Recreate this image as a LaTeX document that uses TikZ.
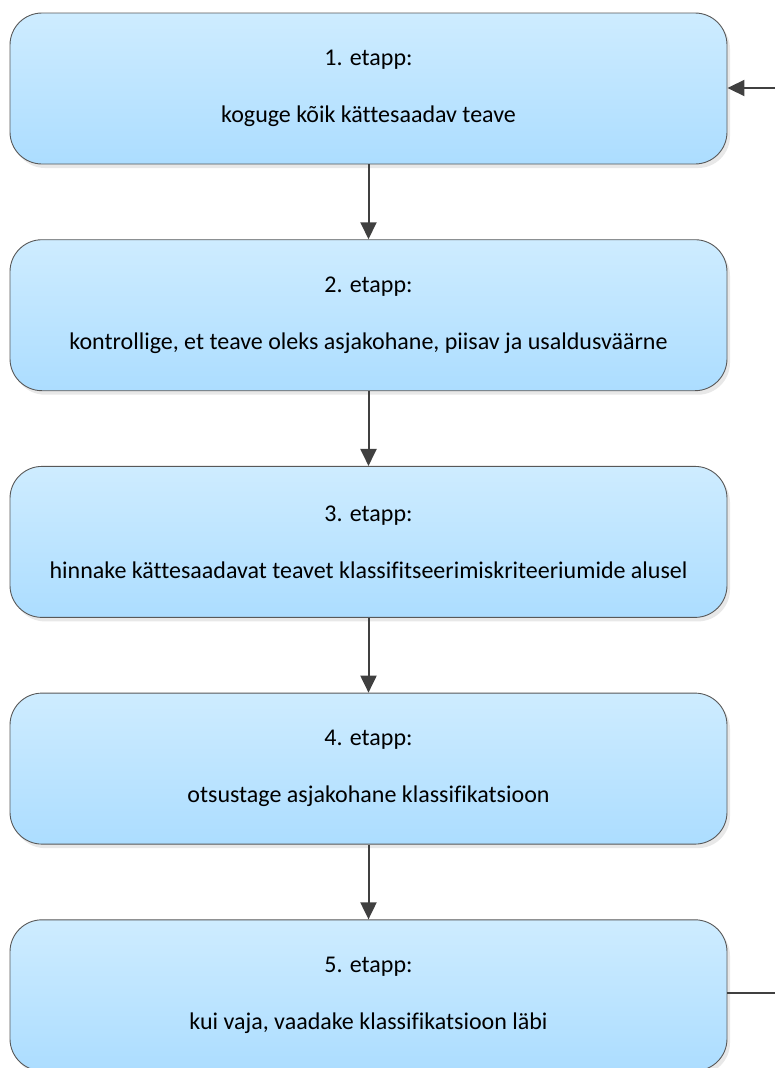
\documentclass[tikz,border=0pt]{standalone}
\usepackage{fontspec}
\setmainfont[Ligatures=NoCommon]{Carlito}
\usetikzlibrary{arrows.meta, shadows}
\definecolor{boxtop}{RGB}{206,236,255}
\definecolor{boxbot}{RGB}{172,221,255}
\definecolor{rand}{RGB}{88,88,88}
\definecolor{pijl}{RGB}{64,64,64}
\tikzset{
  etapp/.style = {rectangle, rounded corners=32pt, draw=rand, line width=0.9pt,
    top color=boxtop, bottom color=boxbot, minimum width=717pt,
    minimum height=151pt, inner sep=0pt, align=center,
    font=\fontsize{24}{29}\selectfont,
    drop shadow={opacity=0.18, shadow xshift=3pt, shadow yshift=-4pt}},
  pijl/.style = {-{Triangle[length=17pt, width=16pt]}, line width=2pt, draw=pijl},
  joon/.style = {line width=2pt, draw=pijl}
}

\begin{document}
\begin{tikzpicture}[x=1pt, y=-1pt]
  \useasboundingbox (0,0) rectangle (775,1068);
  % etapid
  \foreach \t [count=\i] in {{koguge kõik kättesaadav teave},
      {kontrollige, et teave oleks asjakohane, piisav ja usaldusväärne},
      {hinnake kättesaadavat teavet klassifitseerimiskriteeriumide alusel},
      {otsustage asjakohane klassifikatsioon},
      {kui vaja, vaadake klassifikatsioon läbi}}
    \node [etapp] (e\i) at (368.5,88.5+226.7*\i-226.7) {\i. etapp:\\[28pt]\t};
  \foreach \i [count=\j from 2] in {1,...,4} \draw [pijl] (e\i.south) -- (e\j.north);

  % tagasiside
  \coordinate (sisse) at (775,88);
  \coordinate (valja) at (775,993);
  \draw [pijl] (sisse) -- (sisse -| e1.east);
  \draw [joon] (valja -| e5.east) -- (valja);
\end{tikzpicture}
\end{document}
